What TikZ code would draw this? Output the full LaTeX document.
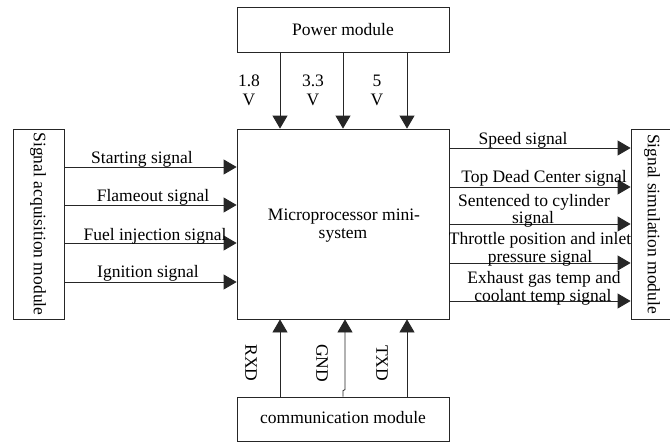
\documentclass[tikz,border=0pt]{standalone}
\usepackage{fontspec}
\setmainfont{Liberation Serif}
\usetikzlibrary{arrows.meta}
\begin{document}
\begin{tikzpicture}[x=1pt,y=-1pt,
  box/.style={draw=black!85,line width=0.8pt,fill=white,inner sep=0pt},
  arr/.style={draw=black!85,line width=0.8pt,-{Triangle[length=13pt,width=15pt]}},
  lbl/.style={font=\fontsize{17.5}{19}\selectfont,inner sep=0pt,anchor=base},
  vlbl/.style={font=\fontsize{17.5}{19}\selectfont,inner sep=0pt,rotate=-90,anchor=center}]
\useasboundingbox (0,0) rectangle (670,442);
\clip (0,0) rectangle (670,442);
% boxes
\node[box,minimum width=212pt,minimum height=45pt] (pwr) at (343,29.5) {};
\node[box,minimum width=212pt,minimum height=190pt] (mcu) at (343,224) {};
\node[box,minimum width=51pt,minimum height=190pt] (acq) at (38.5,224) {};
\node[box,minimum width=46pt,minimum height=190pt] (sim) at (654,224) {};
\node[box,minimum width=212pt,minimum height=44pt] (com) at (343,419) {};
% box texts
\node[lbl] (tpwr) at (343,35) {Power module};
\node[lbl] (tmcu1) at (344,220.7) {Microprocessor mini-};
\node[lbl] (tmcu2) at (343,238.3) {system};
\node[vlbl] (tacq) at (38,224) {Signal acquisition module};
\node[vlbl] (tsim) at (652,224) {Signal simulation module};
\node[lbl] (tcom) at (343,423.3) {communication module};
% power arrows
\draw[arr] (280,0 |- pwr.south) -- (280,0 |- mcu.north);
\draw[arr] (343,0 |- pwr.south) -- (343,0 |- mcu.north);
\draw[arr] (407,0 |- pwr.south) -- (407,0 |- mcu.north);
\node[lbl] (v1a) at (249,86) {1.8};
\node[lbl] (v1b) at (249,105) {V};
\node[lbl] (v2a) at (313,86) {3.3};
\node[lbl] (v2b) at (313,105) {V};
\node[lbl] (v3a) at (377,86) {5};
\node[lbl] (v3b) at (377,105) {V};
% communication arrows
\draw[arr] (280,0 |- com.north) -- (280,0 |- mcu.south);
\draw[arr] (com.north) -- ++(0,-6) -- ++(2,-1) -- (345,0 |- mcu.south);
\draw[arr] (407,0 |- com.north) -- (407,0 |- mcu.south);
\node[vlbl] (rxd) at (251,363) {RXD};
\node[vlbl] (gnd) at (322,363) {GND};
\node[vlbl] (txd) at (382,363) {TXD};
% left arrows
\draw[arr] (acq.east |- 0,167) -- (mcu.west |- 0,167);
\draw[arr] (acq.east |- 0,205) -- (mcu.west |- 0,205);
\draw[arr] (acq.east |- 0,243) -- (mcu.west |- 0,243);
\draw[arr] (acq.east |- 0,282) -- (mcu.west |- 0,282);
\node[lbl] (s1) at (142,163.3) {Starting signal};
\node[lbl] (s2) at (153,201.7) {Flameout signal};
\node[lbl] (s3) at (155,240.7) {Fuel injection signal};
\node[lbl] (s4) at (148,277.3) {Ignition signal};
% right arrows
\draw[arr] (mcu.east |- 0,148) -- (sim.west |- 0,148);
\draw[arr] (mcu.east |- 0,187) -- (sim.west |- 0,187);
\draw[arr] (mcu.east |- 0,224) -- (sim.west |- 0,224);
\draw[arr] (mcu.east |- 0,263) -- (sim.west |- 0,263);
\draw[arr] (mcu.east |- 0,301) -- (sim.west |- 0,301);
\node[lbl] (o1) at (523,144) {Speed signal};
\node[lbl] (o2) at (544,182.3) {Top Dead Center signal};
\node[lbl] (o3a) at (534,206) {Sentenced to cylinder};
\node[lbl] (o3b) at (533,223.3) {signal};
\node[lbl] (o4a) at (540,244) {Throttle position and inlet};
\node[lbl] (o4b) at (540,262.7) {pressure signal};
\node[lbl] (o5a) at (544,283.3) {Exhaust gas temp and};
\node[lbl] (o5b) at (543,301.7) {coolant temp signal};
\end{tikzpicture}
\end{document}
